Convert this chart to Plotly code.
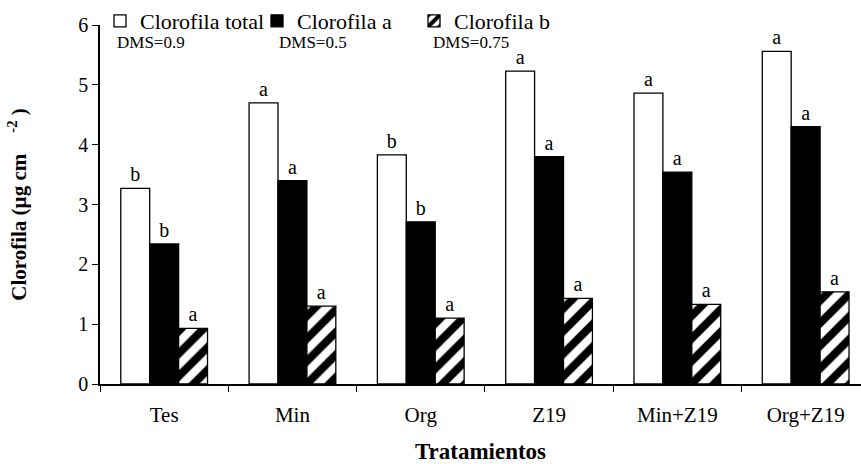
import plotly.graph_objects as go

# Tratamientos y contenido de clorofila (µg cm-2)
tratamientos = ["Tes", "Min", "Org", "Z19", "Min+Z19", "Org+Z19"]
clorofila_total = [3.27, 4.70, 3.83, 5.23, 4.86, 5.56]
clorofila_a = [2.34, 3.40, 2.71, 3.80, 3.54, 4.30]
clorofila_b = [0.93, 1.30, 1.10, 1.43, 1.33, 1.54]

# Letras de comparación de medias
letras_total = ["b", "a", "b", "a", "a", "a"]
letras_a = ["b", "a", "b", "a", "a", "a"]
letras_b = ["a", "a", "a", "a", "a", "a"]

dms_textos = ["DMS=0.9", "DMS=0.5", "DMS=0.75"]

SERIF = "Liberation Serif"
line_style = dict(color="black", width=1.3)
label_font = dict(family=SERIF, size=20, color="black")

fig = go.Figure()
fig.add_trace(go.Bar(
    name="Clorofila total", x=tratamientos, y=clorofila_total,
    marker=dict(color="white", line=line_style),
    text=letras_total, textposition="outside", textfont=label_font,
    cliponaxis=False,
))
fig.add_trace(go.Bar(
    name="Clorofila a", x=tratamientos, y=clorofila_a,
    marker=dict(color="black", line=line_style),
    text=letras_a, textposition="outside", textfont=label_font,
    cliponaxis=False,
))
fig.add_trace(go.Bar(
    name="Clorofila b", x=tratamientos, y=clorofila_b,
    marker=dict(color="white", line=line_style,
                pattern=dict(shape="/", fgcolor="black", bgcolor="white",
                             fgopacity=1, size=16, solidity=0.5)),
    text=letras_b, textposition="outside", textfont=label_font,
    cliponaxis=False,
))

# Diferencias mínimas significativas bajo cada entrada de la leyenda
dms_x = [115, 277, 431]
for txt, px in zip(dms_textos, dms_x):
    fig.add_annotation(
        text=txt, xref="paper", yref="paper",
        x=(px - 100) / 761, y=1 - (42 - 24) / 360,
        xanchor="left", yanchor="middle", showarrow=False,
        font=dict(family=SERIF, size=17, color="black"),
    )

fig.update_layout(
    width=861, height=464,
    margin=dict(l=100, r=0, t=24, b=80),
    plot_bgcolor="white", paper_bgcolor="white",
    barmode="group", bargap=0.324, bargroupgap=0,
    showlegend=True,
    legend=dict(
        orientation="h", x=0.0, xanchor="left",
        y=1.0 + 4 / 360, yanchor="middle",
        font=dict(family=SERIF, size=22, color="black"),
        bgcolor="rgba(0,0,0,0)", itemwidth=30, tracegroupgap=0,
        entrywidth=112, entrywidthmode="pixels",
    ),
    xaxis=dict(
        range=[-0.5, -0.5 + 761 / 128.3],
        showline=True, linecolor="black", linewidth=1.5,
        ticks="outside", tickson="boundaries", ticklen=6,
        tickcolor="black", tickwidth=1.3,
        ticklabelstandoff=11,
        tickfont=dict(family=SERIF, size=21, color="black"),
        title=dict(text="<b>Tratamientos</b>", standoff=19,
                   font=dict(family=SERIF, size=23, color="black")),
        showgrid=False, zeroline=False,
    ),
    yaxis=dict(
        range=[0, 6], dtick=1,
        showline=True, linecolor="black", linewidth=1.5,
        ticks="outside", ticklen=6, tickcolor="black", tickwidth=1.3,
        tickfont=dict(family=SERIF, size=20, color="black"),
        title=dict(text="<b>Clorofila (µg cm&nbsp;&nbsp;&nbsp;&nbsp;<sup>-2</sup>&nbsp;)</b>",
                   standoff=46,
                   font=dict(family=SERIF, size=21, color="black")),
        showgrid=False, zeroline=False,
    ),
)

fig.write_html("out.html")
